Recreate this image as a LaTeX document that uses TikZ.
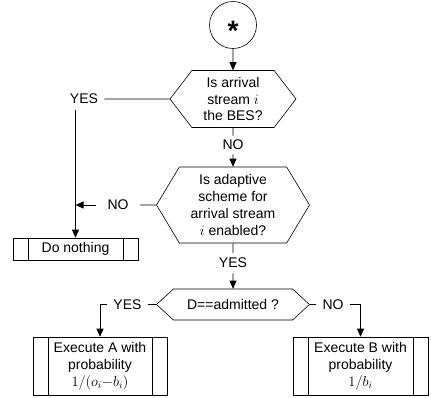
\documentclass[tikz,border=0pt]{standalone}
\usepackage{fontspec}
\setmainfont{Liberation Sans}
\usetikzlibrary{arrows.meta,shapes.symbols,positioning}

\begin{document}
\begin{tikzpicture}[x=1pt,y=-1pt,line width=0.6pt,
  every node/.style={font=\fontsize{14}{16.8}\selectfont},
  decision/.style={draw,signal,signal to=west and east,inner sep=0pt,align=center},
  process/.style={draw,rectangle,inner sep=0pt,align=center,
    path picture={
      \draw ([xshift=15pt]path picture bounding box.north west) -- ([xshift=15pt]path picture bounding box.south west);
      \draw ([xshift=-15pt]path picture bounding box.north east) -- ([xshift=-15pt]path picture bounding box.south east);}},
  lbl/.style={inner sep=6pt},
  flow/.style={-{Triangle[length=8pt,width=7pt]}}]
  \useasboundingbox (0,0) rectangle (431,397); % page size of the reference

  % start symbol
  \node[draw,circle,minimum size=47pt,inner sep=0pt,text height=31pt,text depth=0pt,
        font=\fontsize{28}{28}\selectfont\bfseries] (start) at (233,25) {*};

  % first question
  \node[decision,minimum width=126pt,minimum height=57pt,signal pointer angle=105] (q1) at (233,99) {Is arrival\\stream $i$\\the BES?};
  \node[lbl] (yes1) at (84,99) {YES};
  \node[lbl,inner sep=4pt] (no1) at (233,145) {NO};

  % second question
  \node[decision,minimum width=153pt,minimum height=76pt,signal pointer angle=118] (q2) at (233,205) {Is adaptive\\scheme for\\arrival stream\\$i$ enabled?};
  \node[lbl,inner xsep=11pt] (no2) at (118,205) {NO};
  \node[lbl,inner sep=5pt] (yes2) at (233,263) {YES};
  \node[process,minimum width=125pt,minimum height=22pt] (nothing) at (75.5,249) {Do nothing};

  % third question
  \node[decision,minimum width=153pt,minimum height=31pt,signal pointer angle=85] (q3) at (233,304.5) {D==admitted ?};
  \node[lbl] (yes3) at (127.5,304.5) {YES};
  \node[lbl] (no3) at (333,304.5) {NO};
  \node[process,minimum width=134pt,minimum height=58pt] (exeA) at (100,366) {Execute A with\\probability\\$1/(o_i{-}b_i)$};
  \node[process,minimum width=135pt,minimum height=58pt] (exeB) at (360.5,366) {Execute B with\\probability\\$1/b_i$};

  \draw[flow] (start) -- (q1);
  \draw (q1) -- (yes1);
  \draw[flow] (yes1.south -| nothing) -- (nothing);
  \draw (q1) -- (no1);
  \draw[flow] (no1) -- (q2);
  \draw (q2) -- (no2);
  \draw[flow] (no2) -- (no2 -| nothing);
  \draw (q2) -- (yes2);
  \draw[flow] (yes2) -- (q3);
  \draw (q3) -- (yes3);
  \draw[flow] (yes3) -| (exeA);
  \draw (q3) -- (no3);
  \draw[flow] (no3) -| (exeB);
\end{tikzpicture}
\end{document}
